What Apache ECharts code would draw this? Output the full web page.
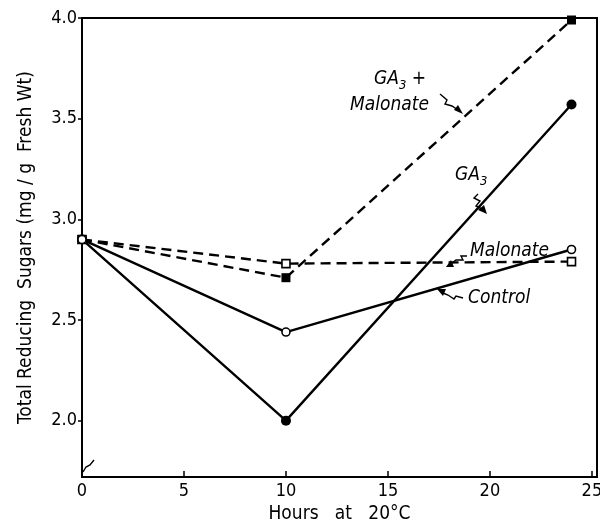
<!DOCTYPE html>
<html>
<head>
<meta charset="utf-8">
<script src="https://cdn.jsdelivr.net/npm/echarts@6/dist/echarts.min.js"></script>
<style>
  html, body { margin: 0; padding: 0; background: #fff; }
  #main { width: 600px; height: 527px; }
</style>
</head>
<body>
<div id="main"></div>
<script>
// hours sampled
var hours = [0, 10, 24];
// total reducing sugars, mg/g fresh wt
var ga3Malonate = [2.90, 2.71, 3.99];
var ga3 = [2.90, 2.00, 3.57];
var malonate = [2.90, 2.78, 2.79];
var control = [2.90, 2.44, 2.85];
var xTicks = [0, 5, 10, 15, 20, 25];
var yTicks = [2.0, 2.5, 3.0, 3.5, 4.0];

var FONT = "'Liberation Sans Narrow', 'DejaVu Sans Condensed', 'Liberation Sans', sans-serif";

function pairs(ys) {
  return hours.map(function (h, i) { return [h, ys[i]]; });
}

function line(name, ys, dashed, symbol, filled, size) {
  return {
    name: name,
    type: 'line',
    data: pairs(ys),
    symbol: symbol,
    symbolSize: size,
    showSymbol: true,
    z: filled ? 4 : 5,
    lineStyle: { color: '#000', width: 2.4, type: dashed ? [10, 6] : 'solid' },
    itemStyle: { color: filled ? '#000' : '#fff', borderColor: '#000', borderWidth: filled ? 0 : 1.6 },
    animation: false
  };
}

var chart = echarts.init(document.getElementById('main'));

var labelRich = {
  it: { fontFamily: FONT, fontStyle: 'italic', fontSize: 19, color: '#000' },
  sub: { fontFamily: FONT, fontStyle: 'italic', fontSize: 13, color: '#000', padding: [12, 0, 0, 0] }
};

function squiggle(pts) {
  return {
    type: 'polyline',
    shape: { points: pts },
    style: { stroke: '#000', lineWidth: 1.4, fill: null },
    z: 10
  };
}
function head(tip, a, b) {
  return {
    type: 'polygon',
    shape: { points: [tip, a, b] },
    style: { fill: '#000' },
    z: 10
  };
}

var option = {
  backgroundColor: '#fff',
  animation: false,
  grid: {
    left: 82, right: 3, top: 18, bottom: 50,
    outerBoundsMode: 'none',
    containLabel: false,
    show: true, borderColor: '#000', borderWidth: 2, backgroundColor: 'transparent'
  },
  xAxis: {
    type: 'value',
    min: 0, max: 25.25, interval: 5,
    name: 'Hours   at   20°C',
    nameLocation: 'middle',
    nameGap: 27,
    nameTextStyle: { fontFamily: FONT, fontSize: 19, color: '#000' },
    axisLine: { show: true, lineStyle: { color: '#000', width: 2 } },
    axisTick: { show: true, inside: true, length: 6, lineStyle: { color: '#000', width: 1.5 } },
    axisLabel: {
      fontFamily: FONT, fontSize: 18, color: '#000', margin: 5,
      formatter: function (v) { return xTicks.indexOf(v) >= 0 ? String(v) : ''; }
    },
    splitLine: { show: false }
  },
  yAxis: {
    type: 'value',
    min: 1.72, max: 4.0, interval: 0.5,
    name: 'Total Reducing  Sugars (mg / g  Fresh Wt)',
    nameLocation: 'middle',
    nameGap: 46,
    nameTextStyle: { fontFamily: FONT, fontSize: 19, color: '#000' },
    axisLine: { show: true, lineStyle: { color: '#000', width: 2 } },
    axisTick: { show: true, inside: false, length: 4, lineStyle: { color: '#000', width: 1.5 },
      customValues: yTicks },
    axisLabel: {
      fontFamily: FONT, fontSize: 18, color: '#000', margin: 5,
      customValues: yTicks,
      formatter: function (v) { return v.toFixed(1); }
    },
    splitLine: { show: false }
  },
  series: [
    line('GA3 + Malonate', ga3Malonate, true, 'rect', true, 9),
    line('GA3', ga3, false, 'circle', true, 10),
    line('Malonate', malonate, true, 'rect', false, 8),
    line('Control', control, false, 'circle', false, 8)
  ],
  graphic: [
    { type: 'text', left: 374, top: 70, z: 10,
      style: { text: '{it|GA}{sub|3}{it| +}', rich: labelRich } },
    { type: 'text', left: 350, top: 96, z: 10,
      style: { text: '{it|Malonate}', rich: labelRich } },
    squiggle([[440, 94], [447, 100], [445, 104], [452, 106], [458, 110]]),
    head([463, 114], [454, 110], [458, 105]),

    { type: 'text', left: 455, top: 166, z: 10,
      style: { text: '{it|GA}{sub|3}', rich: labelRich } },
    squiggle([[478, 194], [474, 198], [480, 201], [476, 206], [482, 209]]),
    head([487, 214], [478, 210], [484, 205]),

    { type: 'text', left: 470, top: 242, z: 10,
      style: { text: '{it|Malonate}', rich: labelRich } },
    squiggle([[467, 256], [461, 256], [463, 260], [456, 260], [452, 263]]),
    head([446, 267], [451, 260], [454, 267]),

    { type: 'text', left: 468, top: 289, z: 10,
      style: { text: '{it|Control}', rich: labelRich } },
    squiggle([[463, 298], [456, 296], [454, 299], [448, 295], [443, 293]]),
    head([437, 289], [446, 289], [443, 296]),

    // small curl near origin
    squiggle([[83, 472], [86, 467], [90, 465], [94, 460]])
  ]
};

chart.setOption(option);
</script>
</body>
</html>
